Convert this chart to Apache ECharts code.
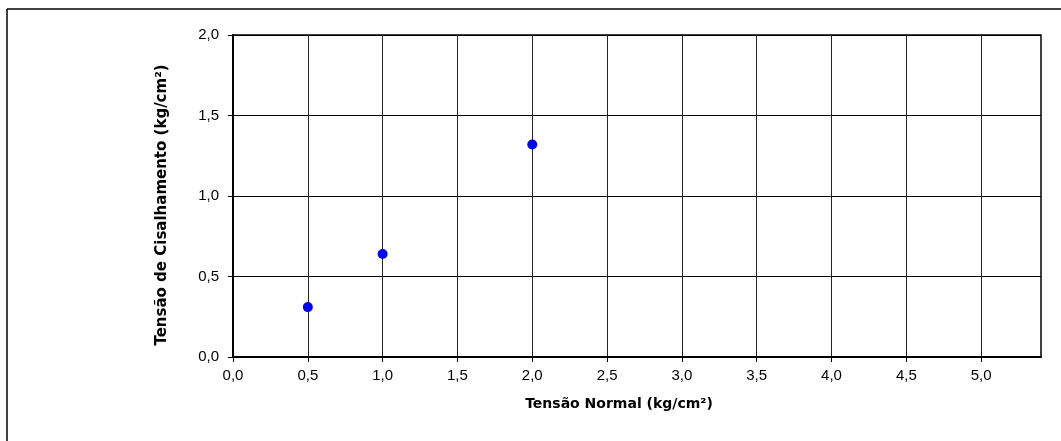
<!DOCTYPE html>
<html>
<head>
<meta charset="utf-8">
<script src="https://cdn.jsdelivr.net/npm/echarts@6/dist/echarts.min.js"></script>
<style>html,body{margin:0;padding:0;background:#fff}#c{width:1061px;height:441px}</style>
</head>
<body>
<div id="c"></div>
<script>
const xValues = [0.5, 1.0, 2.0];
const yValues = [0.31, 0.64, 1.32];
const xTicks = [0, 0.5, 1.0, 1.5, 2.0, 2.5, 3.0, 3.5, 4.0, 4.5, 5.0];
const yTicks = [0, 0.5, 1.0, 1.5, 2.0];
const xTitle = 'Tensão Normal (kg/cm²)';
const yTitle = 'Tensão de Cisalhamento (kg/cm²)';

const chart = echarts.init(document.getElementById('c'), null, {renderer: 'canvas'});
const fmt = v => v.toFixed(1).replace('.', ',');
const font = 'Liberation Sans, Arial, sans-serif';
const titleFont = 'DejaVu Sans, Liberation Sans, sans-serif';
chart.setOption({
  animation: false,
  backgroundColor: '#fff',
  grid: {left: 233, top: 35, right: 20, bottom: 84, show: true, borderColor: '#000', borderWidth: 1.5, backgroundColor: 'transparent'},
  xAxis: {
    type: 'value', min: 0, max: 5.4,
    axisLine: {show: true, onZero: false, lineStyle: {color: '#000', width: 2}},
    axisTick: {show: true, length: 5, lineStyle: {color: '#000'}, customValues: xTicks},
    axisLabel: {customValues: xTicks, formatter: fmt, color: '#000', fontSize: 15, fontFamily: font, margin: 11},
    splitLine: {show: true, lineStyle: {color: '#222', width: 1}}
  },
  yAxis: {
    type: 'value', min: 0, max: 2, interval: 0.5,
    axisLine: {show: true, onZero: false, lineStyle: {color: '#000', width: 2}},
    axisTick: {show: true, length: 5, lineStyle: {color: '#000'}, customValues: yTicks},
    axisLabel: {customValues: yTicks, formatter: fmt, color: '#000', fontSize: 15, fontFamily: font, margin: 14},
    splitLine: {show: true, lineStyle: {color: '#000', width: 1}}
  },
  graphic: [
    {type: 'line', shape: {x1: 7, y1: 9, x2: 1061, y2: 9}, style: {stroke: '#000', lineWidth: 1.5}},
    {type: 'line', shape: {x1: 7, y1: 9, x2: 7, y2: 441}, style: {stroke: '#000', lineWidth: 1.5}},
    {type: 'text', x: 619, y: 404, style: {text: xTitle, font: 'bold 14px ' + titleFont, fill: '#000', textAlign: 'center', textVerticalAlign: 'middle'}},
    {type: 'text', x: 162, y: 205, rotation: Math.PI / 2, style: {text: yTitle, font: 'bold 15px ' + titleFont, fill: '#000', textAlign: 'center', textVerticalAlign: 'middle'}}
  ],
  series: [{
    type: 'scatter',
    data: xValues.map((x, i) => [x, yValues[i]]),
    symbol: 'circle', symbolSize: 10,
    itemStyle: {color: '#0000FF', opacity: 1}
  }]
});
</script>
</body>
</html>
